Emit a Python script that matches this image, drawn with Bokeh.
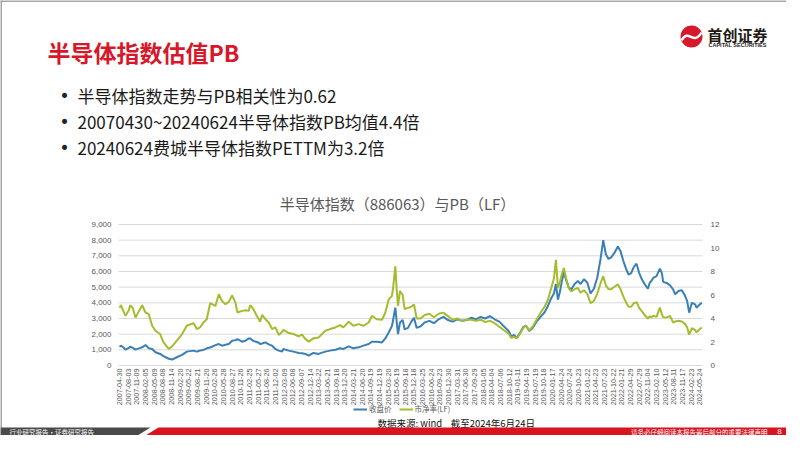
import math
from bokeh.plotting import figure
from bokeh.models import Range1d, Legend, LegendItem
from bokeh.embed import file_html
from bokeh.resources import INLINE
from bokeh.core.properties import value

FONT = "Noto Sans CJK SC"
NUMFONT = "Liberation Sans"

# ---------------- data ----------------
tick_labels = [
    "2007-04-30", "2007-08-03", "2007-11-09", "2008-02-05", "2008-05-09", "2008-08-08",
    "2008-11-14", "2009-02-20", "2009-05-22", "2009-08-21", "2009-11-20", "2010-02-26",
    "2010-05-28", "2010-08-27", "2010-11-26", "2011-02-25", "2011-05-27", "2011-08-26",
    "2011-12-02", "2012-03-09", "2012-06-08", "2012-09-07", "2012-12-14", "2013-03-22",
    "2013-06-21", "2013-09-18", "2013-12-20", "2014-03-21", "2014-06-20", "2014-09-19",
    "2014-12-19", "2015-03-20", "2015-06-19", "2015-09-18", "2015-12-18", "2016-03-25",
    "2016-06-24", "2016-09-23", "2016-12-30", "2017-03-31", "2017-06-30", "2017-09-29",
    "2018-01-05", "2018-04-04", "2018-07-06", "2018-10-12", "2019-01-11", "2019-04-19",
    "2019-07-19", "2019-10-18", "2020-01-17", "2020-04-24", "2020-07-24", "2020-10-23",
    "2021-01-22", "2021-04-23", "2021-07-23", "2021-10-22", "2022-01-21", "2022-04-29",
    "2022-07-29", "2022-11-04", "2023-02-10", "2023-05-12", "2023-08-11", "2023-11-17",
    "2024-02-23", "2024-05-24",
]
label_step = 13  # one label every 13 weekly observations
tick_weeks = [i * label_step for i in range(len(tick_labels))]

# week index (weekly observations since 2007-04-30)
week = [0, 2, 6, 9, 14, 16, 20, 24, 28, 34, 39, 44, 49, 54, 61, 66, 74, 79, 86, 94,
        101, 111, 116, 121, 126, 131, 136, 144, 149, 154, 159, 164, 169, 174, 177, 184,
        189, 194, 196, 201, 206, 209, 211, 214, 219, 224, 229, 234, 239, 244, 246, 254,
        261, 269, 274, 279, 284, 291, 299, 304, 309, 316, 324, 331, 336, 344, 351, 359,
        366, 374, 379, 386, 394, 399, 404, 409, 411, 414, 416, 418, 421, 425, 428, 433,
        438, 442, 446, 452, 458, 465, 472, 479, 486, 493, 500, 507, 514, 521, 528, 535,
        542, 549, 556, 563, 570, 577, 584, 588, 592, 596, 600, 606, 610, 615, 620, 626,
        632, 638, 643, 648, 652, 655, 658, 661, 664, 667, 670, 674, 678, 683, 688, 692,
        697, 702, 707, 712, 717, 722, 726, 730, 734, 738, 743, 748, 752, 756, 760, 764,
        768, 772, 776, 780, 784, 788, 793, 796, 798, 801, 806, 811, 814, 816, 821, 826,
        831, 834, 839, 844, 849, 852, 855, 859, 864, 866, 871, 874]

# 收盘价 (closing level of the semiconductor index)
close = [1200, 1266, 1150, 1010, 1120, 1200, 1120, 1010, 1080, 1160, 1310, 1100, 1055, 842,
         738, 600, 430, 380, 527, 675, 886, 950, 886, 960, 992, 1097, 1150, 1300, 1370, 1266,
         1320, 1370, 1580, 1620, 1690, 1520, 1580, 1730, 1730, 1560, 1500, 1450, 1370, 1400,
         1475, 1350, 1266, 1055, 950, 886, 1055, 950, 886, 800, 780, 738, 630, 800, 738, 820,
         886, 950, 1010, 1097, 1055, 1224, 1097, 1160, 1266, 1370, 1520, 1520, 1475, 1730,
         2110, 2530, 3000, 3690, 2800, 2000, 2740, 2900, 2300, 2400, 2800, 3050, 2400, 2500,
         2750, 2850, 2700, 2950, 3100, 2900, 2800, 2950, 2850, 2900, 3050, 2950, 3100, 3000,
         3150, 2950, 2800, 2500, 2200, 1850, 1950, 1750, 2000, 2450, 2550, 2200, 2400, 2800,
         3100, 3400, 3800, 4300, 4600, 5200, 4200, 4700, 5400, 5950, 5500, 5000, 4850, 5200,
         5400, 5200, 5500, 5300, 4600, 4900, 5600, 6800, 8000, 7100, 6800, 6900, 7200, 7600,
         7300, 6700, 6200, 5800, 5900, 6300, 6500, 5900, 5500, 5200, 4900, 5300, 5380, 5590,
         5700, 6180, 5900, 5340, 5270, 5130, 4850, 4540, 4750, 4810, 4430, 4110, 3370, 4000,
         3900, 3690, 3900, 4000]

# 市净率(LF)
pb = [4.9, 5.13, 4.6, 4.23, 4.7, 5.13, 4.9, 4.08, 4.5, 5.13, 4.51, 4.37, 3.38, 2.96, 2.68,
      1.97, 1.41, 1.63, 2.11, 2.68, 3.38, 3.61, 3.10, 3.24, 3.66, 3.94, 5.30, 5.07, 6.06, 5.49,
      5.21, 5.41, 5.97, 5.35, 4.51, 4.65, 4.70, 4.65, 5.13, 4.79, 4.23, 3.94, 3.72, 4.31, 3.94,
      3.66, 3.10, 3.24, 2.6, 2.85, 3.04, 2.76, 2.68, 2.48, 2.62, 2.25, 2.03, 2.31, 2.39, 2.68,
      2.96, 3.10, 3.24, 3.44, 3.24, 3.72, 3.38, 3.52, 3.38, 3.66, 4.23, 3.94, 3.89, 4.51, 5.6,
      5.92, 6.8, 8.45, 6.5, 5.07, 6.34, 6.0, 4.8, 4.9, 5.0, 5.2, 4.0, 4.0, 4.3, 4.4, 4.1, 4.4,
      4.5, 4.2, 3.9, 4.0, 3.8, 3.9, 3.9, 3.8, 3.9, 3.7, 3.8, 3.6, 3.3, 3.0, 2.7, 2.35, 2.45,
      2.3, 2.6, 3.2, 3.4, 3.0, 3.3, 3.9, 4.5, 5.0, 5.6, 6.6, 7.4, 9.0, 6.6, 7.1, 7.8, 8.3, 7.5,
      6.6, 6.3, 6.5, 6.6, 6.2, 6.4, 6.1, 5.3, 5.5, 6.1, 7.0, 7.6, 6.8, 6.5, 6.5, 6.7, 6.9, 6.5,
      5.9, 5.4, 5.0, 5.0, 5.3, 5.4, 4.9, 4.6, 4.3, 4.0, 4.2, 4.08, 4.23, 4.14, 4.93, 4.37, 4.1,
      4.08, 4.23, 3.66, 3.75, 3.80, 3.75, 3.52, 3.24, 2.62, 3.18, 3.01, 2.82, 3.10, 3.24]

left_ticks = list(range(0, 9001, 1000))
left_tick_labels = [f"{v:,}" for v in left_ticks]
right_ticks = list(range(0, 13, 2))
right_tick_labels = [str(v) for v in right_ticks]

slide_title = "半导体指数估值PB"
bullets = [
    "半导体指数走势与PB相关性为0.62",
    "20070430~20240624半导体指数PB均值4.4倍",
    "20240624费城半导体指数PETTM为3.2倍",
]
chart_title = "半导体指数（886063）与PB（LF）"
series_names = ["收盘价", "市净率(LF)"]
source_text = "数据来源:\u00a0wind\u00a0\u00a0\u00a0\u00a0截至2024年6月24日"
footer_left = "行业研究报告·证券研究报告"
footer_right = "请务必仔细阅读本报告最后部分的重要法律声明"
page_no = "8"

RED = "#d7182a"
BLUE = "#3a7fb5"
GREEN = "#a4bd2f"
GRAY = "#595959"

# ---------------- page geometry (pixels) ----------------
W, H = 786, 435
FL, FR, FT, FB = 118, 702, 224, 365          # chart plot-area box on the page
X0, X1 = -1.5, 875.0                          # weeks spanned by the plot box
C1, P1 = 9000, 12                             # top of left / right value axes

kx = (X1 - X0) / (FR - FL)                    # weeks per pixel
kc = C1 / (FB - FT)                           # index points per pixel
kp = P1 / (FB - FT)                           # PB units per pixel

p = figure(width=W, height=H, x_range=Range1d(0, W), y_range=Range1d(H, 0),
           output_backend="svg", toolbar_location=None, min_border=0,
           x_axis_location=None, y_axis_location=None)
p.grid.visible = False
p.outline_line_color = None
p.background_fill_color = "white"
p.border_fill_color = "white"

# scales of the chart, laid over the page so that the plot box lands on FL..FR, FT..FB
p.extra_x_ranges = {"wk": Range1d(X0 - FL * kx, X0 + (W - FL) * kx)}
p.extra_y_ranges = {"close": Range1d((FB - H) * kc, FB * kc),
                    "pb": Range1d((FB - H) * kp, FB * kp)}

# slide frame (top and left edges)
p.segment(x0=[0, 0.5], y0=[0.5, 0], x1=[W, 0.5], y1=[0.5, H],
          line_color="#8a8a8a", line_width=1.5)

# gridlines at the left-axis ticks
p.segment(x0=[X0] * len(left_ticks), x1=[X1] * len(left_ticks), y0=left_ticks,
          y1=left_ticks, x_range_name="wk", y_range_name="close",
          line_color="#d9d9d9", line_width=1)

r1 = p.line(week, close, x_range_name="wk", y_range_name="close",
            line_color=BLUE, line_width=2)
r2 = p.line(week, pb, x_range_name="wk", y_range_name="pb",
            line_color=GREEN, line_width=2)

# axis tick labels
p.text(x=[FL - 7] * len(left_ticks), y=left_ticks, y_range_name="close",
       text=left_tick_labels, text_font=value(NUMFONT), text_font_size="8px",
       text_color=GRAY, text_align="right", text_baseline="middle")
p.text(x=[FR + 8] * len(right_ticks), y=right_ticks, y_range_name="pb",
       text=right_tick_labels, text_font=value(NUMFONT), text_font_size="8px",
       text_color=GRAY, text_align="left", text_baseline="middle")
p.text(x=tick_weeks, y=[FB + 3] * len(tick_weeks), x_range_name="wk",
       text=tick_labels, angle=math.pi / 2, text_font=value(NUMFONT),
       text_font_size="7.2px", text_color=GRAY, text_align="right",
       text_baseline="middle")

legend = Legend(items=[LegendItem(label=series_names[0], renderers=[r1]),
                       LegendItem(label=series_names[1], renderers=[r2])],
                orientation="horizontal", location=(353, H - 414),
                label_text_font=FONT, label_text_font_size="7.5px", label_text_color=GRAY,
                glyph_width=14, glyph_height=8, label_height=8, label_standoff=2,
                padding=0, margin=0, spacing=7, border_line_color=None,
                background_fill_alpha=0)
p.add_layout(legend, "center")


def txt(x, y, t, size, color, font=FONT, style="normal", align="left"):
    p.text(x=[x], y=[y], text=[t], text_font=value(font), text_font_size=size,
           text_font_style=style, text_color=color, text_align=align,
           text_baseline="middle")


# logo
p.circle(x=[691], y=[36], radius=11, fill_color=RED, line_color=None)
p.bezier(x0=[681], y0=[40], x1=[701], y1=[32], cx0=[688], cy0=[27], cx1=[693], cy1=[46],
         line_color="white", line_width=2.5)
txt(707, 34, "首创证券", "15px", "#231815", style="bold")
txt(708, 44.5, "CAPITAL SECURITIES", "5.5px", "#231815", font=NUMFONT, style="bold")

# title, bullets, chart title
txt(47, 51, slide_title, "23px", RED, style="bold")
for yy, t in zip([95, 121, 147], bullets):
    txt(64, yy, "•", "17px", "#222222", font="DejaVu Sans", align="center")
    txt(77, yy, t, "17px", "#1a1a1a")
txt(397, 203, chart_title, "15px", GRAY, align="center")

# source and footer band
txt(377, 422, source_text, "9.5px", "#111111")
p.patch(x=[0, 150, 137, 0], y=[427, 427, 435, 435], fill_color="#4a4a4a", line_color=None)
p.patch(x=[158, 786, 786, 145], y=[427, 427, 435, 435], fill_color="#d9141f",
        line_color=None)
txt(9, 431, footer_left, "6.5px", "white")
txt(767, 431, footer_right, "6.5px", "white", align="right")
txt(779, 431, page_no, "8px", "white", font=NUMFONT, align="center")

open("out.html", "w").write(file_html(p, INLINE))
